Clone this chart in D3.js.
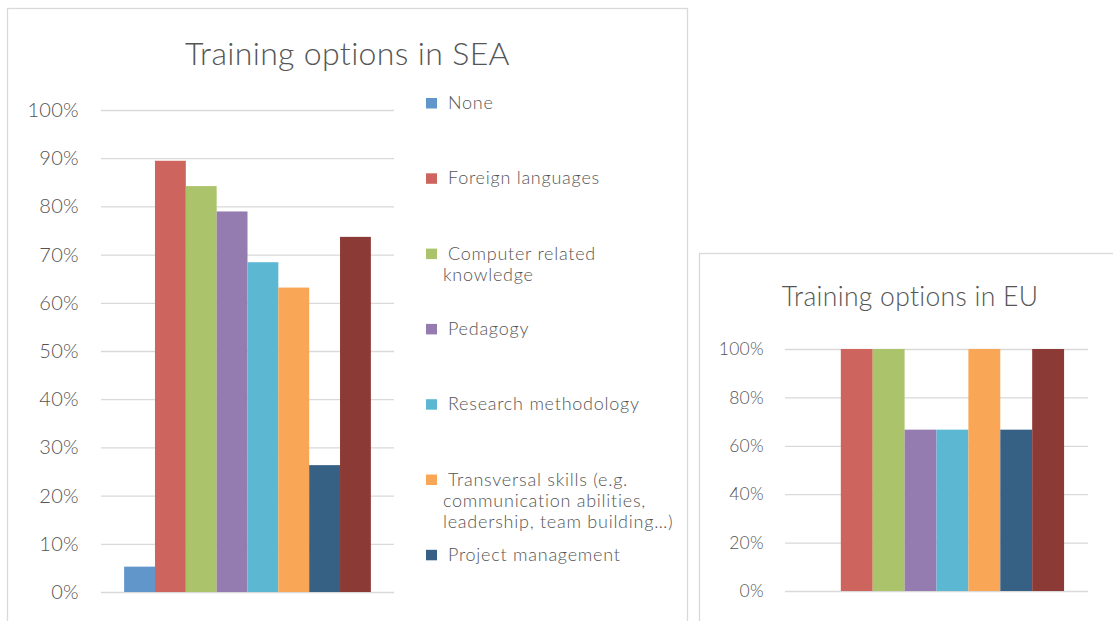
<!DOCTYPE html>
<html>
<head>
<meta charset="utf-8">
<script src="https://cdn.jsdelivr.net/npm/d3@7"></script>
<style>
  html, body { margin: 0; padding: 0; background: #fff; }
  svg { display: block; font-family: Lato, "Open Sans", sans-serif; }
</style>
</head>
<body>
<script>
// series (one bar each, single category)
const series = ["None", "Foreign languages", "Computer related knowledge", "Pedagogy",
                "Research methodology", "Transversal skills (e.g. communication abilities, leadership, team building…)",
                "Project management", "Other"];
// legend text, wrapped like the original (the 8th entry falls below the visible area)
const legendLines = [["None"], ["Foreign languages"], ["Computer related", "knowledge"], ["Pedagogy"],
                     ["Research methodology"], ["Transversal skills (e.g.", "communication abilities,", "leadership, team building…)"],
                     ["Project management"]];
const colors = ["#6096c9", "#cd655e", "#abc46c", "#947bb0", "#5cb8d2", "#f9a656", "#376085", "#8c3a36"];

// share of respondents
const seaValues = [0.0526, 0.8947, 0.8421, 0.7895, 0.6842, 0.6316, 0.2632, 0.7368];
const euValues  = [0, 1, 1, 0.6667, 0.6667, 1, 0.6667, 1];

const seaTicks = [0, 0.1, 0.2, 0.3, 0.4, 0.5, 0.6, 0.7, 0.8, 0.9, 1];
const euTicks  = [0, 0.2, 0.4, 0.6, 0.8, 1];

var width = 1113, height = 621;
var svg = d3.select("body").append("svg")
            .attr("width", width)
            .attr("height", height);

var textColor = "#555555";
var gridColor = "#d9d9d9";

var drawPanel = function(opt){
    // frame
    svg.append("rect")
       .attr("x", opt.box[0] + 0.5).attr("y", opt.box[1] + 0.5)
       .attr("width", opt.box[2]).attr("height", opt.box[3])
       .attr("fill", "#fff").attr("stroke", gridColor).attr("stroke-width", 1.3);

    svg.append("text")
       .attr("x", opt.titleX).attr("y", opt.titleY)
       .attr("text-anchor", "middle")
       .attr("fill", textColor)
       .attr("font-size", opt.titleSize)
       .attr("font-weight", 300)
       .attr("letter-spacing", opt.titleSpacing)
       .text(opt.title);

    var y = d3.scaleLinear().domain([0, 1]).range([opt.bottom, opt.top]);
    var x = d3.scaleBand().domain(series)
              .range([opt.left, opt.right])
              .paddingInner(0).paddingOuter(0.75);

    var axis = svg.append("g")
       .attr("transform", "translate(" + opt.left + ",0)")
       .call(d3.axisLeft(y).tickValues(opt.ticks)
               .tickFormat(d3.format(".0%"))
               .tickSize(-(opt.right - opt.left))
               .tickPadding(opt.labelPad));
    axis.select(".domain").remove();
    axis.selectAll(".tick line").attr("stroke", gridColor).attr("stroke-width", 1.3);
    axis.selectAll(".tick text")
        .attr("fill", textColor)
        .attr("font-size", opt.labelSize)
        .attr("font-weight", 300)
        .attr("letter-spacing", 0.3)
        .attr("font-family", "Lato, 'Open Sans', sans-serif");

    svg.append("g").selectAll("rect")
       .data(opt.values)
       .enter()
       .append("rect")
       .attr("x", function(d, i){ return x(series[i]); })
       .attr("width", x.bandwidth())
       .attr("y", function(d){ return y(d); })
       .attr("height", function(d){ return opt.bottom - y(d); })
       .attr("fill", function(d, i){ return colors[i]; });
};

drawPanel({
    box: [7, 8, 680, 640],
    title: "Training options in SEA", titleX: 347.5, titleY: 65, titleSize: 32, titleSpacing: 0.35,
    left: 101, right: 394, top: 110, bottom: 592,
    ticks: seaTicks, values: seaValues, labelPad: 22, labelSize: 20
});

drawPanel({
    box: [699, 253, 460, 420],
    title: "Training options in EU", titleX: 910, titleY: 306, titleSize: 26.5, titleSpacing: 0.3,
    left: 785, right: 1088, top: 349, bottom: 591,
    ticks: euTicks, values: euValues, labelPad: 21, labelSize: 17.5
});

// legend of the SEA chart
var ly = d3.scaleLinear().domain([0, 1]).range([103, 178.3]);
var legend = svg.append("g").selectAll("g")
    .data(legendLines)
    .enter()
    .append("g")
    .attr("transform", function(d, i){ return "translate(426," + ly(i) + ")"; });

legend.append("rect")
      .attr("x", 0).attr("y", -5)
      .attr("width", 11).attr("height", 10.5)
      .attr("fill", function(d, i){ return colors[i]; });

legend.append("text")
      .attr("fill", textColor)
      .attr("font-size", 18)
      .attr("font-weight", 300)
      .attr("letter-spacing", 0.75)
      .selectAll("tspan")
      .data(function(d){ return d; })
      .enter()
      .append("tspan")
      .attr("x", function(d, j){ return j === 0 ? 22 : 17; })
      .attr("y", function(d, j){ return 6 + j * 21; })
      .text(function(d){ return d; });
</script>
</body>
</html>
